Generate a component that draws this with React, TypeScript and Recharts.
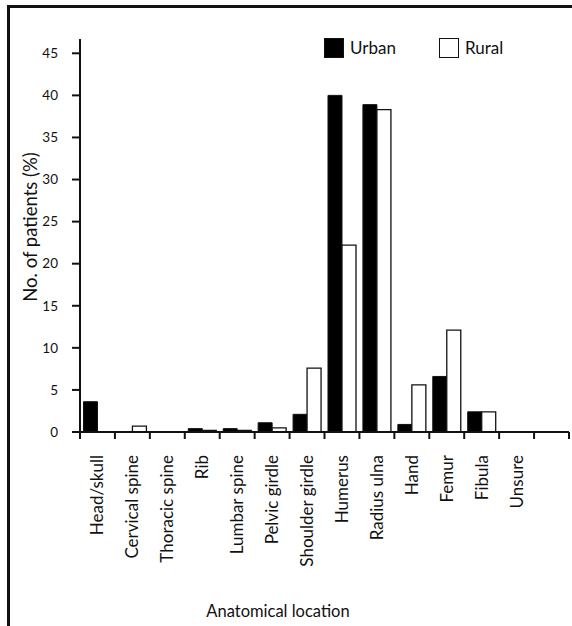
import React from 'react';
import { BarChart, Bar, XAxis, YAxis, Legend } from 'recharts';

// fracture site, share of patients per group (%)
const sites = [
  'Head/skull',
  'Cervical spine',
  'Thoracic spine',
  'Rib',
  'Lumbar spine',
  'Pelvic girdle',
  'Shoulder girdle',
  'Humerus',
  'Radius ulna',
  'Hand',
  'Femur',
  'Fibula',
  'Unsure',
  '',
];
const urban = [3.6, 0, 0, 0.4, 0.4, 1.1, 2.1, 40, 38.9, 0.9, 6.6, 2.4, 0, 0];
const rural = [0, 0.7, 0, 0.2, 0.2, 0.5, 7.6, 22.2, 38.3, 5.6, 12.1, 2.4, 0, 0];
const yTicks = [0, 5, 10, 15, 20, 25, 30, 35, 40, 45];
const groups = ['Urban', 'Rural'];

const FONT = 'Lato, "Open Sans", sans-serif';
const INK = '#111';

const rows = sites.map((site, i) => ({ site, urban: urban[i], rural: rural[i] }));

// category label between boundary ticks (ticks sit on the band edges)
const SiteTick = (props: any) => {
  const { x, y, payload } = props;
  const half = payload?.offset ?? 0;
  const idx = props.index ?? payload?.index ?? 0;
  const ly = y + 23;
  return (
    <g>
      <line x1={x - half} x2={x - half} y1={y} y2={y + 7} stroke={INK} strokeWidth={2} />
      {idx === sites.length - 1 && (
        <line x1={x + half} x2={x + half} y1={y} y2={y + 7} stroke={INK} strokeWidth={2} />
      )}
      {payload.value ? (
        <text
          x={x}
          y={ly}
          dy="0.35em"
          transform={`rotate(-90, ${x}, ${ly})`}
          textAnchor="end"
          fontFamily={FONT}
          fontSize={17}
          fill={INK}
        >
          {payload.value}
        </text>
      ) : null}
    </g>
  );
};

const LegendKeys = (props: any) => {
  const items = [...(props.payload || [])].sort(
    (a: any, b: any) => groups.indexOf(a.value) - groups.indexOf(b.value)
  );
  return (
    <div style={{ display: 'flex', alignItems: 'center', fontFamily: FONT, fontSize: 17, color: INK }}>
      {items.map((it: any) => {
        const p = it.payload || {};
        return (
          <div key={it.value} style={{ display: 'flex', alignItems: 'center', width: 115 }}>
            <span
              style={{
                display: 'inline-block',
                width: 18,
                height: 18,
                background: p.fill ?? it.color,
                border: `1px solid ${INK}`,
                marginRight: 6,
              }}
            />
            <span>{it.value}</span>
          </div>
        );
      })}
    </div>
  );
};

const YTitle = () => {
  const cx = 31;
  const cy = 227;
  return (
    <text
      x={cx}
      y={cy}
      dy="0.35em"
      transform={`rotate(-90, ${cx}, ${cy})`}
      textAnchor="middle"
      fontFamily={FONT}
      fontSize={18.5}
      fill={INK}
    >
      No. of patients (%)
    </text>
  );
};

const XTitle = (props: any) => {
  const vb = props.viewBox || {};
  return (
    <text x={(vb.x ?? 0) + 198} y={611} dy="0.35em" textAnchor="middle" fontFamily={FONT} fontSize={16.5} fill={INK}>
      Anatomical location
    </text>
  );
};

export default function App() {
  return (
    <div style={{ position: 'absolute', left: 0, top: 0, width: 572, height: 626, background: '#fff', overflow: 'hidden' }}>
      <div
        style={{
          position: 'absolute',
          left: 7,
          top: 5,
          right: -10,
          bottom: -10,
          borderTop: `3px solid ${INK}`,
          borderLeft: `3px solid ${INK}`,
        }}
      />
      <BarChart
        width={572}
        height={626}
        data={rows}
        margin={{ top: 39, right: 3, bottom: 44, left: 0 }}
        barCategoryGap="10%"
        barGap={0}
      >
        <XAxis
          dataKey="site"
          interval={0}
          height={150}
          tickLine={false}
          tickSize={0}
          tickMargin={0}
          axisLine={{ stroke: INK, strokeWidth: 2 }}
          tick={<SiteTick />}
          label={{ content: <XTitle /> }}
        />
        <YAxis
          width={80}
          domain={[0, 46.7]}
          ticks={yTicks}
          interval={0}
          tickSize={8}
          tickMargin={14}
          axisLine={{ stroke: INK, strokeWidth: 2 }}
          tickLine={{ stroke: INK, strokeWidth: 2 }}
          tick={{ fontFamily: FONT, fontSize: 13.5, fill: INK }}
          label={{ content: <YTitle /> }}
        />
        <Legend
          layout="vertical"
          align="center"
          verticalAlign="middle"
          content={<LegendKeys />}
          wrapperStyle={{ top: 37, left: 324, width: 'auto' }}
        />
        <Bar dataKey="urban" name="Urban" fill="#000" stroke={INK} strokeWidth={1} isAnimationActive={false} />
        <Bar dataKey="rural" name="Rural" fill="#fff" stroke={INK} strokeWidth={1.3} isAnimationActive={false} />
      </BarChart>
    </div>
  );
}
